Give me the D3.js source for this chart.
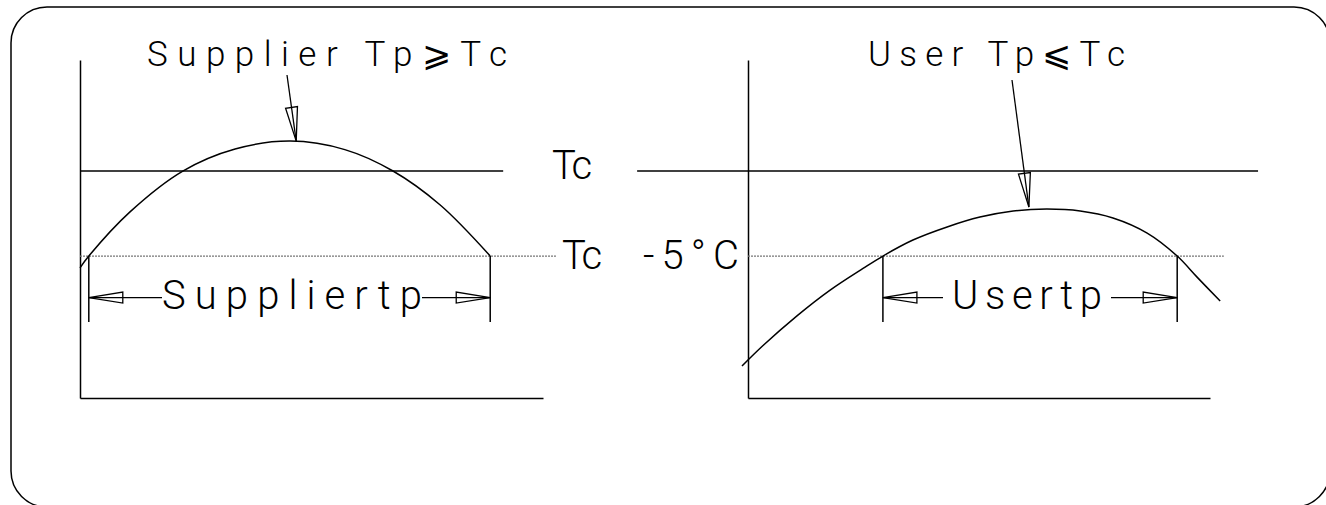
<!DOCTYPE html>
<html>
<head>
<meta charset="utf-8">
<script src="https://cdn.jsdelivr.net/npm/d3@7"></script>
<style>
  body { margin: 0; background: #fff; }
  svg { display: block; }
  text { font-family: Roboto, "DejaVu Sans", sans-serif; font-weight: 300; fill: #000; }
</style>
</head>
<body>
<div id="chart"></div>
<script>
// temperature is an offset from Tc in deg C, time is 0-100 along each time axis
var supplierTime = [0, 1.9, 10.8, 22.2, 33.5, 45.4, 57.2, 67.6, 77.8, 88.6];
var supplierTemp = [-5.7, -5.0, -2.4, 0, 1.3, 1.76, 1.26, 0, -2.0, -5.0];

var userTime = [-1.3, 3.2, 10.6, 17.7, 24.9, 29.2, 35.7, 43.1, 50.2, 57.4, 64.7, 71.9, 79.0, 86.4, 92.9, 97.2, 102.2];
var userTemp = [-11.47, -10.28, -8.52, -7.02, -5.73, -5.0, -4.06, -3.29, -2.71, -2.35, -2.24, -2.35, -2.76, -3.65, -5.0, -6.24, -7.65];

var refLevels = [0, -5];              // Tc, Tc - 5
var supplierTp = [1.9, 88.6];         // where the curve crosses Tc - 5
var userTp = [29.2, 92.9];
var supplierPeak = [46.7, 1.76];      // callout target
var userPeak = [60.8, -2.12];

var titles = ['Supplier Tp\u2A7ETc', 'User Tp\u2A7DTc'];
var tpLabels = ['Suppliertp', 'Usertp'];
var tcLabel = 'Tc', tc5Labels = ['Tc', '-5\u00B0C'];

var W = 1326, H = 505;
var svg = d3.select('#chart').append('svg').attr('width', W).attr('height', H);

// outer frame
svg.append('rect')
    .attr('x', 11).attr('y', 7).attr('width', 1319).attr('height', 500).attr('rx', 36)
    .attr('fill', 'none').attr('stroke', '#000').attr('stroke-width', 1.5);

var y = d3.scaleLinear().domain([-13.35, 6.53]).range([398, 60]);
var xL = d3.scaleLinear().domain([0, 100]).range([80, 543]);
var xR = d3.scaleLinear().domain([0, 100]).range([748, 1210]);

var panels = [
    { x: xL, time: supplierTime, temp: supplierTemp, tp: supplierTp, peak: supplierPeak,
      title: titles[0], titleX: 147, titleW: 360, callFrom: [287, 75],
      label: tpLabels[0], labelX: 162, labelW: 260, gap: 0,
      spans: [[0, 91.4], [0, 102.8]] },
    { x: xR, time: userTime, temp: userTemp, tp: userTp, peak: userPeak,
      title: titles[1], titleX: 868, titleW: 257, callFrom: [1012, 80],
      label: tpLabels[1], labelX: 952, labelW: 150, gap: 9,
      spans: [[-24, 110.4], [0, 103]] }
];

function arrowHead(g, tip, from, len, hw) {
    var dx = from[0] - tip[0], dy = from[1] - tip[1];
    var d = Math.sqrt(dx * dx + dy * dy);
    var ux = dx / d, uy = dy / d;
    var bx = tip[0] + ux * len, by = tip[1] + uy * len;
    g.append('path')
        .attr('d', 'M' + tip + 'L' + [bx - uy * hw, by + ux * hw] + 'L' + [bx + uy * hw, by - ux * hw] + 'Z')
        .attr('fill', 'none').attr('stroke', '#000').attr('stroke-width', 1.3);
}

panels.forEach(function (p) {
    var g = svg.append('g');

    // axes without ticks
    g.append('g').attr('transform', 'translate(0,' + y.range()[0] + ')')
        .call(d3.axisBottom(p.x).tickValues([]).tickSizeOuter(0));
    g.append('g').attr('transform', 'translate(' + p.x.range()[0] + ',0)')
        .call(d3.axisLeft(y).tickValues([]).tickSizeOuter(0));
    g.selectAll('.domain').attr('stroke', '#000').attr('stroke-width', 1.5);

    // Tc and Tc-5 lines
    refLevels.forEach(function (lv, i) {
        g.append('line')
            .attr('x1', p.x(p.spans[i][0])).attr('x2', p.x(p.spans[i][1]))
            .attr('y1', y(lv)).attr('y2', y(lv))
            .attr('stroke', i === 0 ? '#000' : '#777')
            .attr('stroke-width', i === 0 ? 1.5 : 1.2)
            .attr('stroke-dasharray', i === 0 ? null : '2,1');
    });

    // temperature profile
    var line = d3.line()
        .x(function (d, i) { return p.x(p.time[i]); })
        .y(function (d, i) { return y(p.temp[i]); })
        .curve(d3.curveCatmullRom.alpha(0.5));
    g.append('path').datum(p.time).attr('d', line)
        .attr('fill', 'none').attr('stroke', '#000').attr('stroke-width', 1.5);

    // tp dimension
    var y5 = y(-5), ya = y5 + 41.5;
    var xa = p.x(p.tp[0]), xb = p.x(p.tp[1]);
    [xa, xb].forEach(function (xx) {
        g.append('line').attr('x1', xx).attr('x2', xx).attr('y1', y5).attr('y2', y5 + 66)
            .attr('stroke', '#000').attr('stroke-width', 1.5);
    });
    g.append('line').attr('x1', xa).attr('x2', p.labelX - p.gap).attr('y1', ya).attr('y2', ya)
        .attr('stroke', '#000').attr('stroke-width', 1.3);
    g.append('line').attr('x1', p.labelX + p.labelW + p.gap).attr('x2', xb).attr('y1', ya).attr('y2', ya)
        .attr('stroke', '#000').attr('stroke-width', 1.3);
    arrowHead(g, [xa, ya], [xb, ya], 34, 5.5);
    arrowHead(g, [xb, ya], [xa, ya], 34, 5.5);
    g.append('text').attr('x', p.labelX).attr('y', y5 + 53)
        .attr('font-size', 40).attr('textLength', p.labelW).attr('lengthAdjust', 'spacing')
        .text(p.label);

    // title and callout
    g.append('text').attr('x', p.titleX).attr('y', 66)
        .attr('font-size', 35).attr('textLength', p.titleW).attr('lengthAdjust', 'spacing')
        .text(p.title);
    var tip = [p.x(p.peak[0]), y(p.peak[1])];
    g.append('line').attr('x1', p.callFrom[0]).attr('y1', p.callFrom[1])
        .attr('x2', tip[0]).attr('y2', tip[1])
        .attr('stroke', '#000').attr('stroke-width', 1.3);
    arrowHead(g, tip, p.callFrom, 34, 6);
});

// level labels between the panels
svg.append('text').attr('x', 552).attr('y', y(0) + 8)
    .attr('font-size', 40).attr('textLength', 40).attr('lengthAdjust', 'spacing')
    .text(tcLabel);
svg.append('text').attr('x', 562).attr('y', y(-5) + 13)
    .attr('font-size', 40).attr('textLength', 40).attr('lengthAdjust', 'spacing')
    .text(tc5Labels[0]);
svg.append('text').attr('x', 643).attr('y', y(-5) + 13)
    .attr('font-size', 40).attr('textLength', 96).attr('lengthAdjust', 'spacing')
    .text(tc5Labels[1]);
</script>
</body>
</html>
